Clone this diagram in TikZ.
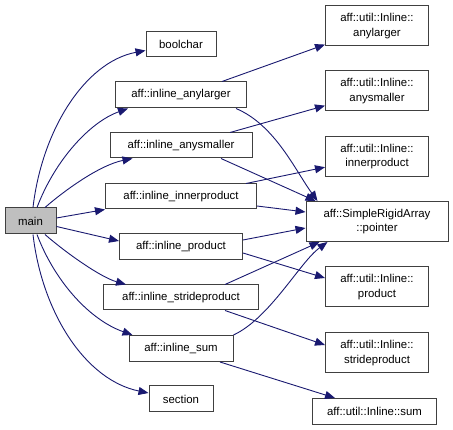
\documentclass[tikz,border=0pt]{standalone}
\usepackage{fontspec}
\setmainfont{Liberation Sans}
\usetikzlibrary{arrows.meta}
\definecolor{edgec}{HTML}{191970}
\definecolor{boxc}{HTML}{404040}
\definecolor{mainfill}{HTML}{BFBFBF}
\tikzset{
  fn/.style={draw=boxc, line width=1pt, fill=white, inner sep=0pt, align=center,
    font=\fontsize{11.4}{14.8}\selectfont},
  call/.style={draw=edgec, line width=0.9pt, -{Triangle[length=10pt,width=8pt]}},
}
\begin{document}
\begin{tikzpicture}[x=1pt,y=-1pt]
\useasboundingbox (0,0) rectangle (453,430);
\node[fn, fill=mainfill, minimum width=51pt, minimum height=26pt] (main) at (30.5,221) {main};
\node[fn, minimum width=70pt, minimum height=25pt] (boolchar) at (181,44.5) {boolchar};
\node[fn, minimum width=131pt, minimum height=26pt] (ila) at (181,95) {aff::inline\_anylarger};
\node[fn, minimum width=142pt, minimum height=25pt] (ism) at (181,145.5) {aff::inline\_anysmaller};
\node[fn, minimum width=151pt, minimum height=25pt] (iin) at (181,196.5) {aff::inline\_innerproduct};
\node[fn, minimum width=123pt, minimum height=26pt] (ipr) at (181,247) {aff::inline\_product};
\node[fn, minimum width=155pt, minimum height=25pt] (ist) at (181,297.5) {aff::inline\_strideproduct};
\node[fn, minimum width=104pt, minimum height=26pt] (isu) at (181,348.5) {aff::inline\_sum};
\node[fn, minimum width=64pt, minimum height=26pt] (section) at (181,399) {section};
\node[fn, minimum width=103pt, minimum height=40pt] (ula) at (377,26) {aff::util::Inline::\\anylarger};
\node[fn, minimum width=103pt, minimum height=40pt] (usm) at (377,91) {aff::util::Inline::\\anysmaller};
\node[fn, minimum width=103pt, minimum height=40pt] (uin) at (377,156.5) {aff::util::Inline::\\innerproduct};
\node[fn, minimum width=142pt, minimum height=40pt] (ptr) at (377,221.5) {aff::SimpleRigidArray\\::pointer};
\node[fn, minimum width=103pt, minimum height=40pt] (upr) at (377,287) {aff::util::Inline::\\product};
\node[fn, minimum width=103pt, minimum height=40pt] (ust) at (377,353) {aff::util::Inline::\\strideproduct};
\node[fn, minimum width=124pt, minimum height=26pt] (usu) at (374.5,411.5) {aff::util::Inline::sum};
% main calls
\draw[call] ([xshift=2.5pt]main.north) .. controls (42,130) and (85,62) .. ([yshift=-6pt]boolchar.west);
\draw[call] ([xshift=6.5pt]main.north) .. controls (55,160) and (90,122) .. ([xshift=13pt]ila.south west);
\draw[call] ([xshift=14.5pt]main.north) .. controls (65,190) and (100,165) .. ([xshift=23pt]ism.south west);
\draw[call] ([yshift=3pt]main.east) -- ([yshift=-13pt]iin.west);
\draw[call] ([yshift=-5.5pt]main.east) -- ([yshift=6pt]ipr.west);
\draw[call] ([xshift=14.5pt]main.south) .. controls (65,252) and (100,277) .. ([xshift=23pt]ist.north west);
\draw[call] ([xshift=6.5pt]main.south) .. controls (55,282) and (90,320) .. ([xshift=4pt]isu.north west);
\draw[call] ([xshift=2.5pt]main.south) .. controls (42,312) and (85,380) .. ([yshift=6pt]section.west);
% second level
\draw[call] ([xshift=41pt]ila.north) -- (ula);
\draw[call] ([xshift=55pt]ila.south) .. controls (275,125) and (295,170) .. ([xshift=12pt]ptr.north west);
\draw[call] ([xshift=49pt]ism.north) -- (usm);
\draw[call] ([xshift=40pt]ism.south) -- ([xshift=10pt]ptr.north west);
\draw[call] ([xshift=65pt]iin.north) -- (uin);
\draw[call] ([yshift=-9.5pt]iin.east) -- ([yshift=9.5pt]ptr.west);
\draw[call] ([yshift=7pt]ipr.east) -- ([yshift=-6.5pt]ptr.west);
\draw[call] ([yshift=-6pt]ipr.east) -- ([yshift=9pt]upr.west);
\draw[call] ([xshift=44pt]ist.north) -- ([xshift=14pt]ptr.south west);
\draw[call] ([xshift=44pt]ist.south) -- ([yshift=8pt]ust.west);
\draw[call] (isu.north east) .. controls (270,318) and (300,262) .. ([xshift=22pt]ptr.south west);
\draw[call] ([xshift=39pt]isu.south) -- ([xshift=-39.5pt]usu.north);
\end{tikzpicture}
\end{document}
